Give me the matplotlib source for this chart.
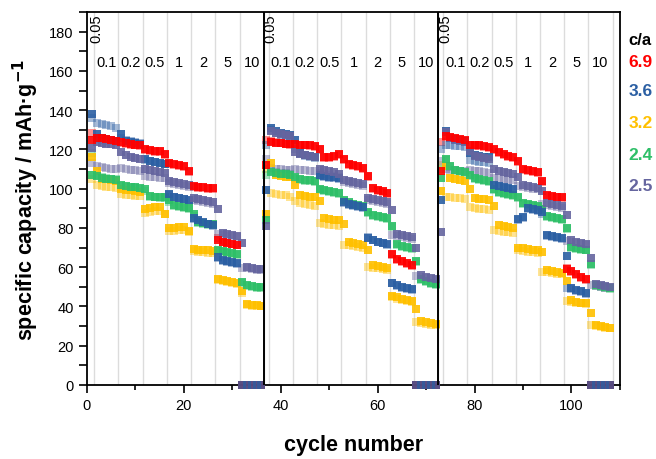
import numpy as np
import matplotlib
matplotlib.use('Agg')
import matplotlib.pyplot as plt
from matplotlib.ticker import MultipleLocator

plt.rcParams['font.family'] = ['Liberation Sans', 'DejaVu Sans']

# ---------------- data ----------------
rates = ['0.05', '0.1', '0.2', '0.5', '1', '2', '5', '10']
cycles_per_rate = [1, 5, 5, 5, 5, 5, 5, 5]
n_protocols = 3
ca_labels = ['6.9', '3.6', '3.2', '2.4', '2.5']
colors = ['#FF0000', '#2B5FA3', '#FFC000', '#2EBF68', '#65659F']

red_dark = [125, 126, 126, 125.5, 125, 124.5, 124, 123.5, 123, 122.5, 122, 120, 119.5, 119, 119, 117.5, 113, 112.5, 112, 111.5, 109, 101.5, 101, 101, 100.5, 100.5, 74, 73, 72.5, 72, 71.5, 0, 0, 0, 0, 0,
            112, 124, 123.5, 123.5, 123, 123, 123, 122.5, 122.5, 122, 121.5, 120, 116, 116, 116.5, 117.5, 115, 112.5, 112, 111.5, 110.5, 106.5, 100.5, 99.5, 99, 98, 66.5, 64, 63, 62, 61, 0, 0, 0, 0, 0,
            109, 127, 126.5, 126, 125.5, 125, 122.5, 122, 122, 121.5, 121, 120, 118.5, 117.5, 116.5, 116, 114, 110, 109.5, 109, 108.5, 104, 97, 96.5, 96, 95.5, 59, 58, 56.5, 55, 54, 0, 0, 0, 0, 0]
red_light = [128.5, 125.5, 125, 124.5, 124.5, 124, 123.5, 123, 122.5, 122, 121.5, 119.5, 119, 118.5, 118.5, 117, 112.5, 112, 111.5, 111, 108.5, 101, 100.5, 100.5, 100, 100, 75, 73, 72.5, 72, 71.5, 0, 0, 0, 0, 0,
             125, 124.5, 124, 123.5, 123, 122.5, 122.5, 122, 122, 121.5, 121, 119.5, 115.5, 115.5, 116, 117, 114.5, 112, 111.5, 111, 110, 106, 100, 99, 98.5, 97.5, 66, 63.5, 62.5, 61.5, 60.5, 0, 0, 0, 0, 0,
             124, 126.5, 126, 125.5, 125, 124.5, 122, 121.5, 121.5, 121, 120.5, 119.5, 118, 117, 116, 115.5, 113.5, 109.5, 109, 108.5, 108, 103.5, 96.5, 96, 95.5, 95, 59.5, 57.5, 56, 54.5, 53.5, 0, 0, 0, 0, 0]

blue_dark = [138, 128, 126, 125.5, 125, 124.5, 128, 124.5, 124, 123.5, 123, 115, 114, 113.5, 113, 112.5, 97.5, 96, 95, 94.5, 94, 85, 84, 83, 82, 81.5, 65, 63.5, 63, 62.5, 62, 0, 0, 0, 0, 0,
             99.5, 131, 129.5, 128.5, 128, 127.5, 125, 118, 117, 116.5, 116, 107, 106.5, 106, 106, 105.5, 93, 92, 91.5, 91, 90.5, 75, 74, 73, 72.5, 72, 52, 51, 50, 49.5, 49, 0, 0, 0, 0, 0,
             94, 129.5, 126, 125.5, 125, 124.5, 118, 117, 116.5, 116, 116, 102, 101.5, 101, 100.5, 100, 84.5, 85.5, 90, 89.5, 89, 88, 76.5, 76, 75.5, 75, 65.5, 49.5, 48.5, 48, 47, 0, 0, 0, 0, 0]
blue_light = [136, 133.5, 133, 132.5, 132, 131, 126, 125, 124.5, 124, 123.5, 114.5, 114, 113.5, 113, 112.5, 97, 95.5, 95, 94.5, 93.5, 84.5, 83.5, 82.5, 82, 81, 64.5, 63, 62.5, 62, 61.5, 0, 0, 0, 0, 0,
              122.5, 130, 128.5, 127.5, 127, 126.5, 120, 117.5, 116.5, 116, 115.5, 106.5, 106, 105.5, 105.5, 105, 92.5, 91.5, 91, 90.5, 90, 75.5, 74, 73, 72.5, 71.5, 52, 50.5, 49.5, 49, 48.5, 0, 0, 0, 0, 0,
              120, 122.5, 122, 121.5, 121.5, 121, 114.5, 114, 113.5, 113.5, 113, 101.5, 101, 100.5, 100, 99.5, 84, 85, 89.5, 89, 88.5, 87, 76, 75.5, 75, 74.5, 49.5, 49, 48, 47.5, 46.5, 0, 0, 0, 0, 0]

yellow_dark = [116, 109, 105, 105, 104.5, 104, 100, 99.5, 99.5, 99, 98.5, 89.5, 90, 90.5, 90.5, 87, 80, 80, 80.5, 80.5, 78.5, 69.5, 69, 68.5, 68.5, 68, 54, 53.5, 53, 52.5, 52, 48, 41, 40.5, 40.5, 40,
               87, 113, 107, 106.5, 106, 106, 102, 97, 96.5, 96, 95.5, 93.5, 85, 84.5, 84, 84, 82, 73, 72.5, 72, 71.5, 69, 61, 60.5, 60, 59.5, 45.5, 45, 44, 43.5, 43, 38.5, 32.5, 32, 31.5, 31,
               99, 111.5, 105.5, 105, 104.5, 104, 100, 95, 94.5, 94.5, 94, 91, 81.5, 81, 80.5, 80, 70, 70, 69.5, 69, 68.5, 67.5, 58.5, 58, 57.5, 57, 53, 43.5, 42.5, 42, 41.5, 36.5, 30.5, 30, 29.5, 29]
yellow_light = [105, 102, 101.5, 101, 101, 100.5, 97.5, 97, 97, 96.5, 96.5, 87.5, 88, 88.5, 88.5, 87, 78.5, 78.5, 79, 79, 78, 68, 67.5, 67.5, 67, 67, 53.5, 53, 52.5, 52, 51.5, 47, 40.5, 40, 40, 40,
                110, 98, 97.5, 97, 97, 96, 93.5, 92.5, 92, 91.5, 91, 82.5, 82, 81.5, 81.5, 81, 71.5, 71.5, 71, 70.5, 70, 60, 59.5, 59.5, 59, 58.5, 45, 44, 43.5, 43, 42.5, 32, 31.5, 31, 30.5, 30.5,
                112, 95.5, 95.5, 95, 95, 94.5, 90.5, 90, 89.5, 89.5, 89, 79, 78.5, 78, 78, 77.5, 68.5, 68, 67.5, 67.5, 67, 57.5, 57.5, 57, 56.5, 56.5, 43, 42.5, 42, 41.5, 41, 30.5, 30, 29.5, 29, 29]

green_dark = [107, 106.5, 105.5, 105, 105, 104.5, 102, 101.5, 101, 101, 100.5, 100, 96.5, 96, 95.5, 95.5, 94, 91.5, 91, 90.5, 90, 87, 83, 82.5, 82, 82, 68.5, 68, 67.5, 67, 66.5, 52.5, 51, 50.5, 50, 50,
              84, 108.5, 108, 107.5, 107.5, 107, 106, 105, 104.5, 104.5, 104, 100, 99.5, 99, 98.5, 98, 94, 93, 92, 91.5, 91, 88, 86.5, 86, 85.5, 85, 81, 72, 71, 70.5, 70, 63, 54, 53, 52, 51.5,
              105.5, 115, 111.5, 109.5, 109, 108.5, 107, 105.5, 105, 104.5, 104, 100, 98.5, 98, 97.5, 97, 95.5, 92.5, 92, 91.5, 91, 89.5, 86, 85.5, 85, 84.5, 80, 70.5, 70, 69.5, 69, 61.5, 51, 50.5, 50, 49.5]
green_light = [118, 107, 106, 105.5, 105, 105, 101.5, 101, 100.5, 100.5, 100, 99, 96, 95.5, 95, 95, 93, 91, 90.5, 90, 89.5, 86, 82.5, 82, 81.5, 81.5, 68, 67.5, 67, 66.5, 66, 52, 50.5, 50, 49.5, 49.5,
               107, 109, 108.5, 108, 108, 107.5, 105.5, 104.5, 104, 104, 103.5, 99.5, 99, 98.5, 98, 97.5, 93.5, 92.5, 91.5, 91, 90.5, 87.5, 86, 85.5, 85, 84.5, 80.5, 71.5, 70.5, 70, 69.5, 62.5, 53.5, 52.5, 51.5, 51,
               110, 114.5, 111, 109, 108.5, 108, 106.5, 105, 104.5, 104, 103.5, 99.5, 98, 97.5, 97, 96.5, 95, 92, 91.5, 91, 90.5, 89, 85.5, 85, 84.5, 84, 79.5, 70, 69.5, 69, 68.5, 61, 50.5, 50, 49.5, 49]

purple_dark = [120.5, 124, 123.5, 123, 123, 122.5, 118.5, 117, 116, 115.5, 115, 110, 109.5, 109, 108.5, 108, 104, 103.5, 103, 102.5, 102, 95, 94.5, 94, 93.5, 93, 89.5, 77.5, 77, 76.5, 76, 72.5, 60, 59.5, 59, 59,
               81, 129.5, 128.5, 128, 127.5, 127, 118.5, 117.5, 117, 116.5, 116, 110, 109.5, 109, 108.5, 107.5, 104.5, 104, 103.5, 103, 102.5, 95, 94.5, 94, 93.5, 93, 89, 77, 76.5, 76, 75.5, 70, 56, 55, 54.5, 54,
               78, 129, 126, 125, 124.5, 124, 119, 116.5, 116, 115.5, 115, 110, 109, 108.5, 108, 107.5, 106, 102, 101.5, 101, 100.5, 99, 92.5, 92, 91.5, 91, 86.5, 74, 73, 72.5, 72, 64.5, 51.5, 51, 50.5, 50]
purple_light = [113, 111.5, 111, 110.5, 110, 110, 110.5, 110, 109.5, 109.5, 109, 106.5, 106, 106, 105.5, 105.5, 103, 102.5, 102, 101.5, 101, 94, 93.5, 93, 92.5, 92, 77, 76.5, 76, 76, 75.5, 59.5, 59.5, 59, 58.5, 58.5,
                115, 110.5, 110, 110, 109.5, 109.5, 110, 109.5, 109.5, 109, 109, 108, 107.5, 107, 106.5, 106, 103.5, 103, 102.5, 102, 101.5, 94, 93.5, 93, 92.5, 92, 76.5, 76, 75.5, 75, 74.5, 55.5, 55, 54.5, 54, 53.5,
                114, 110, 109.5, 109.5, 109, 109, 109.5, 109, 109, 108.5, 108, 105.5, 105, 105, 104.5, 104.5, 101.5, 101, 100.5, 100, 100, 92, 91.5, 91, 90.5, 90, 73.5, 73, 72.5, 72, 71.5, 51, 50.5, 50, 49.5, 49.5]

# ---------------- figure ----------------
fig = plt.figure(figsize=(6.56, 4.60), dpi=100)
ax = fig.add_axes([0.1326, 0.161, 0.8124, 0.8107])

n_cyc = len(red_dark)
cycles = np.arange(1, n_cyc + 1)
panel_len = sum(cycles_per_rate)

# rate boundaries (light gray) and protocol separators (black)
bounds = np.cumsum(cycles_per_rate) + 0.5
for p in range(n_protocols):
    for b in bounds:
        ax.axvline(p * panel_len + b, color='#DCDCDC', lw=1.0, zorder=1)
for p in range(1, n_protocols):
    ax.axvline(p * panel_len + 0.5, color='black', lw=1.4, zorder=6)

series = [
    ('6.9', colors[0], red_dark, red_light),
    ('3.6', colors[1], blue_dark, blue_light),
    ('3.2', colors[2], yellow_dark, yellow_light),
    ('2.4', colors[3], green_dark, green_light),
    ('2.5', colors[4], purple_dark, purple_light),
]
ms = 5.6
# light (second) markers first
for lab, col, dark, light in series:
    ax.plot(cycles, light, 's', color=col, alpha=0.42, ms=ms, mew=0,
            clip_on=False, zorder=3)
# dark markers, drawing order: yellow, green, blue, purple, red
order = {'3.2': 5.0, '2.4': 5.1, '3.6': 5.2, '2.5': 5.3, '6.9': 5.4}
zero_z = {'6.9': 4.0, '3.6': 4.1}
for lab, col, dark, light in series:
    d = np.array(dark, dtype=float)
    nz = d != 0
    ax.plot(cycles[nz], d[nz], 's', color=col, alpha=0.9, ms=ms, mew=0,
            clip_on=False, zorder=order[lab])
    if (~nz).any():
        ax.plot(cycles[~nz], d[~nz], 's', color=col, alpha=0.75, ms=ms, mew=0,
                clip_on=False, zorder=zero_z.get(lab, 4.0))

# rate labels
starts = np.concatenate([[0], np.cumsum(cycles_per_rate)[:-1]])
for p in range(n_protocols):
    for i, r in enumerate(rates):
        c0 = p * panel_len + starts[i] + 1
        center = c0 + (cycles_per_rate[i] - 1) / 2
        if cycles_per_rate[i] == 1:
            ax.text(center + 0.9, 189.2, r, rotation=90, ha='center', va='top',
                    fontsize=10.5, zorder=7)
        else:
            ax.text(center, 164.5, r, ha='center', va='center', fontsize=10.5, zorder=7)

# c/a legend on the right
ax.text(1.016, 175.8, 'c/a', transform=ax.get_yaxis_transform(), ha='left',
        va='center', fontsize=12, fontweight='bold', color='black')
leg_y = [164.6, 149.8, 133.5, 117.6, 101.8]
for (lab, col, _, _), yy in zip(series, leg_y):
    ax.text(1.016, yy, lab, transform=ax.get_yaxis_transform(), ha='left',
            va='center', fontsize=12.5, fontweight='bold', color=col)

ax.set_xlim(0, 110)
ax.set_ylim(0, 190)
ax.xaxis.set_major_locator(MultipleLocator(20))
ax.xaxis.set_minor_locator(MultipleLocator(10))
ax.yaxis.set_major_locator(MultipleLocator(20))
ax.yaxis.set_minor_locator(MultipleLocator(10))
ax.set_yticks(np.arange(0, 181, 20))
ax.tick_params(axis='both', which='major', direction='out', length=6, width=1.2,
               labelsize=10.5, top=False, right=False)
ax.tick_params(axis='x', which='minor', direction='out', length=3.5, width=1.2,
               top=False)
ax.tick_params(axis='y', which='minor', direction='out', length=6, width=1.2,
               right=False)
for s in ax.spines.values():
    s.set_linewidth(1.3)

ax.set_xlabel('cycle number', fontsize=15.5, fontweight='bold', labelpad=16)
ax.set_ylabel('specific capacity / mAh·g$^{\\mathbf{-1}}$', fontsize=15.5,
              fontweight='bold', labelpad=6)

fig.savefig('out.png', dpi=100)
